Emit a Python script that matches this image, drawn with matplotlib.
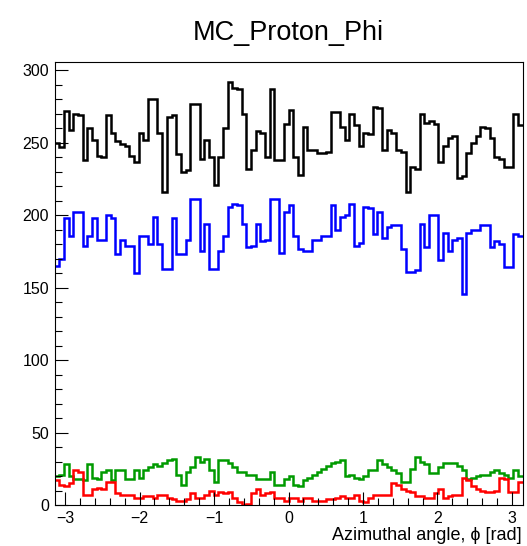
"""
MC_Proton_Phi histogram, ROOT-style: four 100-bin phi distributions drawn
as open step outlines.
"""

import matplotlib

matplotlib.use("Agg")
import matplotlib.pyplot as plt
import numpy as np
from matplotlib.ticker import MultipleLocator

# ---------------------------------------------------------------------------
# Data (bin contents, 100 bins from -pi to pi)
# ---------------------------------------------------------------------------
N_BINS = 100

black_counts = [
    250, 247, 272, 259, 270, 269, 238, 260, 252, 241,
    240, 269, 257, 251, 249, 248, 241, 237, 257, 252,
    280, 280, 257, 216, 268, 269, 242, 230, 231, 277,
    277, 239, 252, 240, 221, 240, 260, 292, 288, 287,
    270, 232, 245, 258, 257, 240, 287, 238, 238, 263,
    273, 240, 228, 261, 245, 245, 243, 243, 244, 271,
    271, 261, 252, 270, 262, 248, 257, 256, 275, 274,
    245, 259, 257, 245, 244, 216, 233, 232, 270, 264,
    265, 263, 237, 248, 253, 255, 226, 227, 243, 250,
    255, 261, 260, 253, 240, 239, 233, 233, 270, 262,
]

blue_counts = [
    165, 170, 198, 186, 202, 202, 179, 186, 198, 183,
    183, 200, 198, 173, 183, 179, 179, 160, 186, 186,
    180, 199, 180, 163, 163, 198, 173, 173, 183, 211,
    211, 175, 194, 163, 163, 175, 186, 206, 208, 207,
    194, 178, 179, 194, 182, 183, 211, 211, 174, 202,
    207, 186, 177, 175, 175, 183, 183, 186, 186, 207,
    190, 199, 200, 208, 179, 181, 206, 205, 187, 202,
    184, 192, 193, 193, 177, 161, 161, 162, 194, 178,
    200, 200, 169, 188, 175, 183, 184, 146, 188, 190,
    190, 193, 193, 178, 182, 180, 164, 164, 187, 186,
]

green_counts = [
    20, 21, 28, 20, 18, 18, 17, 28, 19, 18,
    23, 24, 17, 24, 24, 18, 18, 24, 19, 24,
    26, 28, 27, 29, 31, 32, 21, 14, 23, 26,
    33, 30, 32, 24, 16, 31, 31, 29, 26, 23,
    23, 21, 21, 18, 18, 18, 23, 14, 14, 18,
    20, 14, 13, 17, 19, 21, 23, 25, 27, 29,
    30, 31, 20, 21, 19, 18, 20, 24, 24, 31,
    28, 26, 24, 22, 16, 16, 25, 33, 30, 28,
    22, 22, 26, 29, 29, 29, 27, 24, 18, 19,
    20, 21, 21, 23, 24, 22, 21, 19, 24, 20,
]

red_counts = [
    17, 14, 13, 15, 24, 23, 7, 7, 11, 12,
    11, 16, 16, 8, 7, 7, 7, 5, 5, 6,
    6, 5, 7, 7, 5, 4, 3, 3, 4, 8,
    5, 5, 7, 10, 7, 9, 8, 9, 5, 2,
    0, 1, 8, 11, 7, 8, 9, 5, 5, 3,
    5, 5, 3, 5, 5, 3, 3, 3, 4, 4,
    5, 6, 5, 5, 7, 3, 2, 5, 7, 7,
    7, 7, 15, 14, 11, 10, 9, 6, 6, 5,
    5, 8, 11, 5, 6, 7, 7, 19, 17, 13,
    11, 10, 9, 9, 10, 19, 18, 9, 9, 16,
]

TITLE = "MC_Proton_Phi"
X_TITLE = "Azimuthal angle, \u03d5 [rad]"
Y_TICKS = [0, 50, 100, 150, 200, 250, 300]
X_TICKS = [-3, -2, -1, 0, 1, 2, 3]

# ---------------------------------------------------------------------------
# Style
# ---------------------------------------------------------------------------
FONT = ["Liberation Sans", "DejaVu Sans"]
SERIES = [
    (black_counts, "black"),
    (blue_counts, "#0000ff"),
    (green_counts, "#009a00"),
    (red_counts, "#ff0000"),
]
LINE_W = 1.8
Y_MAX = 306

plt.rcParams["font.family"] = FONT


def style_axes(ax):
    """ROOT-like frame: inward ticks on left/bottom only."""
    ax.set_xlim(-np.pi, np.pi)
    ax.set_ylim(0, Y_MAX)
    ax.xaxis.set_major_locator(MultipleLocator(1))
    ax.xaxis.set_minor_locator(MultipleLocator(0.2))
    ax.set_xticks(X_TICKS)
    ax.set_yticks(Y_TICKS)
    ax.yaxis.set_minor_locator(MultipleLocator(10))
    ax.tick_params(which="both", direction="in", top=False, right=False,
                   width=0.8, labelsize=11.5)
    ax.tick_params(which="major", length=9.5)
    ax.tick_params(which="minor", length=5)
    ax.tick_params(axis="x", pad=4.5)
    ax.tick_params(axis="y", pad=4)
    for spine in ax.spines.values():
        spine.set_linewidth(0.8)


def main():
    fig = plt.figure(figsize=(5.27, 5.46), dpi=100)
    ax = fig.add_axes([0.1035, 0.075, 0.888, 0.812])

    edges = np.linspace(-np.pi, np.pi, N_BINS + 1)
    for counts, color in SERIES:
        ax.stairs(counts, edges, baseline=None, color=color, linewidth=LINE_W)

    style_axes(ax)

    x_mid = 0.1035 + 0.888 / 2
    fig.text(x_mid, 0.927, TITLE, ha="center", va="baseline", fontsize=19.5)
    fig.text(0.99, 0.011, X_TITLE, ha="right", va="baseline", fontsize=13)

    fig.savefig("out.png", dpi=100)
    plt.close(fig)


if __name__ == "__main__":
    main()
